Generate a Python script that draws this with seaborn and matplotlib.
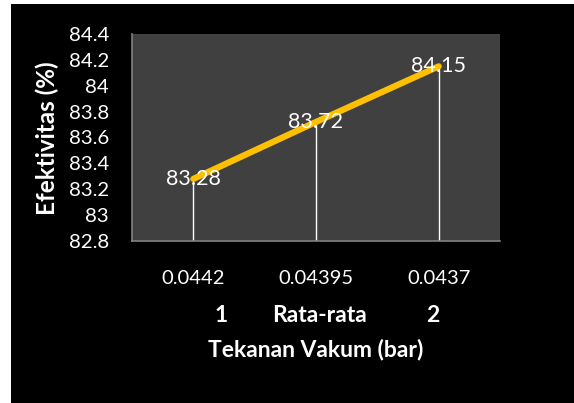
import matplotlib
matplotlib.use("Agg")
import matplotlib.pyplot as plt
import seaborn as sns
import pandas as pd

categories = ["0.0442", "0.04395", "0.0437"]
groups = ["1", "Rata-rata", "2"]
values = [83.28, 83.72, 84.15]
yticks = [82.8, 83.0, 83.2, 83.4, 83.6, 83.8, 84.0, 84.2, 84.4]
ytick_labels = ["82.8", "83", "83.2", "83.4", "83.6", "83.8", "84", "84.2", "84.4"]

df = pd.DataFrame({"x": categories, "y": values})

sns.set_style("dark")
plt.rcParams['font.family'] = ['Lato', 'DejaVu Sans']

W, H = 574, 403
fig = plt.figure(figsize=(W/100, H/100), dpi=100, facecolor="white")
# black panel
fig.patches.append(plt.Rectangle((11/W, 0), 1 - 11/W, 1 - 4/H, transform=fig.transFigure,
                                 facecolor="black", edgecolor="none", zorder=-10))
ax = fig.add_axes([132/W, 1 - 241/H, (500-132)/W, (241-34)/H])
ax.set_facecolor("#404040")

sns.lineplot(data=df, x="x", y="y", ax=ax, color="#FFC000", linewidth=4.5,
             solid_capstyle="round", sort=False, zorder=3)
ax.set_ylim(82.8, 84.4)
ax.set_xlim(-0.5, 2.5)
ax.vlines(range(len(values)), 82.8, values, color="white", linewidth=1, zorder=2)
for i, v in enumerate(values):
    ax.text(i, v, f"{v:.2f}", ha="center", va="center", color="white", fontsize=15.5, zorder=4)

ax.set_yticks(yticks)
ax.set_yticklabels(ytick_labels, color="white", fontsize=14.7)
ax.set_xticks(range(len(categories)))
ax.set_xticklabels(categories, color="white", fontsize=14.5)
ax.tick_params(axis="x", length=0, pad=21)
ax.tick_params(axis="y", length=0, pad=16.5)
ax.grid(False)
for s in ["top", "right"]:
    ax.spines[s].set_visible(False)
for s in ["left", "bottom"]:
    ax.spines[s].set_visible(True)
    ax.spines[s].set_color("#808080")
    ax.spines[s].set_linewidth(1.2)

ax.set_xlabel("")
ax.set_ylabel("")

gx = [221, 320, 433]
for x, g in zip(gx, groups):
    fig.text(x/W, 1 - 316/H, g, ha="center", va="center", color="white",
             fontsize=16.5, fontweight="bold")
fig.text(316/W, 1 - 349/H, "Tekanan Vakum (bar)", ha="center", va="center",
         color="white", fontsize=16.5, fontweight="bold")
fig.text(47/W, 1 - 138/H, "Efektivitas (%)", ha="center", va="center", rotation=90,
         color="white", fontsize=17.5, fontweight="bold")

fig.savefig("out.png", dpi=100, facecolor="white")
